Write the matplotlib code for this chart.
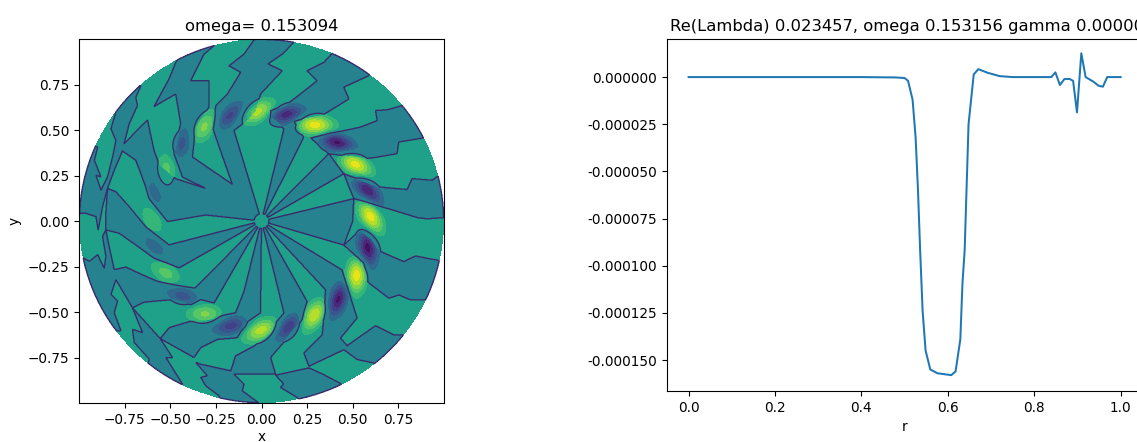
import numpy as np
import matplotlib
matplotlib.use('Agg')
import matplotlib.pyplot as plt
from matplotlib.path import Path
from matplotlib.ticker import FormatStrFormatter

# profile on the right
r_vals = [0.0, 0.1, 0.2, 0.3, 0.4, 0.48, 0.5, 0.508, 0.5185, 0.5255, 0.531, 0.536, 0.5417, 0.5486,
          0.5595, 0.576, 0.608, 0.618, 0.629, 0.634, 0.639, 0.648, 0.66, 0.6706, 0.692, 0.72, 0.75,
          0.8396, 0.849, 0.8595, 0.87, 0.882, 0.89, 0.899, 0.909, 0.919, 0.9375, 0.949, 0.959, 0.969, 1.0]
lam_vals = [0.0, 0.0, 0.0, 0.0, 0.0, -0.0000002, -0.0000005, -0.0000020, -0.000012, -0.000032, -0.000060,
            -0.000092, -0.000124, -0.000145, -0.000155, -0.000157, -0.000158, -0.000156, -0.000139,
            -0.000109, -0.000092, -0.000025, 0.0000014, 0.0000042, 0.0000023, 0.0000005, 0.0,
            0.0, 0.0000025, -0.0000042, -0.000001, -0.000001, -0.000002, -0.0000187, 0.0000126, 0.0,
            -0.0000025, -0.0000046, -0.0000051, 0.0, 0.0]

# blobs along the ring: x, y, height
pos_blobs = [(-0.60, 0.005, 0.30), (-0.525, 0.28, 0.38), (-0.31, 0.52, 0.54), (-0.02, 0.60, 0.72),
             (0.296, 0.525, 0.90), (0.515, 0.31, 0.90), (0.597, 0.03, 0.90), (0.52, -0.30, 0.90),
             (0.285, -0.52, 0.80), (0.0, -0.60, 0.72), (-0.31, -0.51, 0.52), (-0.525, -0.285, 0.38)]
neg_blobs = [(-0.58, 0.16, 0.28), (-0.43, 0.43, 0.40), (-0.17, 0.58, 0.58), (0.14, 0.585, 0.76),
             (0.415, 0.43, 0.90), (0.58, 0.165, 0.90), (0.58, -0.155, 0.90), (0.42, -0.43, 0.86),
             (0.15, -0.58, 0.70), (-0.17, -0.575, 0.58), (-0.43, -0.413, 0.42), (-0.585, -0.14, 0.28)]

# regions of the disk with the slightly negative background
teal_regions = [
    # wedges from the centre
    [(0.0, 0.0), (0.123, 0.507), (0.232, 0.461)],
    [(0.0, 0.0), (0.369, 0.37), (0.451, 0.26)],
    [(0.0, 0.0), (0.506, 0.123), (0.50, 0.0), (0.451, -0.132)],
    [(0.0, 0.0), (0.442, -0.269), (0.351, -0.378)],
    # right half, outer parts
    [(0.123, 0.507), (0.05, 0.571), (0.05, 0.607), (0.132, 0.634), (0.305, 0.771), (0.25, 0.826), (0.342, 0.872),
     (0.387, 0.921), (0.42, 1.0), (0.62, 0.9), (0.588, 0.799), (0.451, 0.735), (0.479, 0.671), (0.333, 0.58),
     (0.177, 0.549), (0.232, 0.461)],
    [(0.771, 0.634), (0.688, 0.611), (0.625, 0.607), (0.634, 0.552), (0.542, 0.516), (0.269, 0.457), (0.369, 0.37),
     (0.579, 0.342), (0.743, 0.37), (0.752, 0.434), (0.889, 0.457), (1.05, 0.5), (0.9, 0.7)],
    [(0.971, 0.251), (0.935, 0.224), (0.825, 0.233), (0.798, 0.173), (0.643, 0.187), (0.451, 0.26), (0.506, 0.123),
     (0.634, 0.087), (0.853, 0.019), (0.907, 0.012), (1.05, 0.023), (1.05, 0.25)],
    [(0.451, -0.132), (0.542, -0.05), (0.606, -0.104), (0.652, -0.168), (0.78, -0.223), (0.844, -0.192),
     (0.907, -0.205), (0.962, -0.214), (1.05, -0.25), (1.05, -0.45), (0.907, -0.433), (0.816, -0.433),
     (0.752, -0.406), (0.698, -0.424), (0.579, -0.333), (0.561, -0.232)],
    [(0.442, -0.269), (0.469, -0.36), (0.524, -0.533), (0.433, -0.643), (0.469, -0.685), (0.625, -0.575),
     (0.725, -0.625), (0.78, -0.625), (0.9, -0.7), (0.7, -0.9), (0.615, -0.78), (0.524, -0.761), (0.451, -0.707),
     (0.26, -0.798), (0.232, -0.725), (0.333, -0.625), (0.351, -0.378)],
    # bottom
    [(0.0, 0.0), (0.123, -0.506), (0.077, -0.559), (0.05, -0.614), (-0.042, -0.687), (-0.142, -0.741),
     (-0.169, -0.823), (-0.151, -0.841), (0.077, -0.841), (0.05, -0.75), (0.15, -0.632), (0.223, -0.542),
     (0.25, -0.442)],
    [(0.0, 0.0), (-0.005, -0.505), (-0.087, -0.559), (-0.133, -0.641), (-0.242, -0.65), (-0.333, -0.696),
     (-0.37, -0.75), (-0.555, -0.646), (-0.506, -0.586), (-0.388, -0.55), (-0.324, -0.55), (-0.242, -0.531),
     (-0.215, -0.519), (-0.142, -0.505), (-0.096, -0.386)],
    [(-0.361, -0.777), (-0.297, -0.85), (-0.333, -0.859), (-0.306, -0.905), (-0.233, -0.96), (-0.2, -1.05),
     (-0.014, -1.05), (-0.014, -1.0), (-0.105, -0.933), (-0.096, -0.896), (-0.151, -0.841), (-0.169, -0.823),
     (-0.333, -0.787)],
    [(0.077, -0.847), (0.122, -0.896), (0.104, -0.914), (0.195, -0.969), (0.25, -1.05), (0.5, -0.95), (0.433, -0.893),
     (0.333, -0.84), (0.26, -0.807)],
    # lower left
    [(-0.707, -0.477), (-0.652, -0.613), (-0.707, -0.595), (-0.697, -0.668), (-0.615, -0.759), (-0.625, -0.796),
     (-0.6, -0.85), (-0.40, -0.95), (-0.433, -0.896), (-0.524, -0.75), (-0.488, -0.75), (-0.555, -0.646)],
    [(0.0, 0.0), (-0.364, -0.369), (-0.434, -0.359), (-0.57, -0.331), (-0.634, -0.304), (-0.743, -0.253),
     (-0.807, -0.267), (-0.798, -0.322), (-0.707, -0.477), (-0.643, -0.446), (-0.488, -0.431), (-0.388, -0.459),
     (-0.333, -0.431), (-0.26, -0.451)],
    [(-0.98, -0.2), (-0.944, -0.222), (-0.898, -0.185), (-0.862, -0.258), (-0.853, -0.195), (-0.871, -0.085),
     (-0.853, -0.049), (-0.835, -0.14), (-0.807, -0.267), (-0.798, -0.322), (-0.825, -0.404), (-0.789, -0.44),
     (-0.807, -0.504), (-0.77, -0.604), (-0.85, -0.6), (-1.0, -0.3)],
    [(0.0, 0.0), (-0.507, -0.131), (-0.634, -0.031), (-0.725, 0.079), (-0.798, 0.161), (-0.844, 0.179),
     (-0.853, 0.042), (-0.853, -0.049), (-0.78, -0.067), (-0.689, -0.131), (-0.589, -0.204), (-0.452, -0.258)],
    # upper left
    [(0.0, 0.0), (-0.306, 0.179), (-0.47, 0.233), (-0.561, 0.315), (-0.589, 0.388), (-0.625, 0.556), (-0.753, 0.425),
     (-0.725, 0.534), (-0.68, 0.634), (-0.689, 0.68), (-0.661, 0.743), (-0.8, 0.75), (-0.798, 0.598), (-0.825, 0.507),
     (-0.798, 0.443), (-0.816, 0.352), (-0.844, 0.242), (-0.853, 0.224), (-0.88, 0.17), (-0.907, 0.252),
     (-0.88, 0.242), (-0.916, 0.334), (-0.898, 0.406), (-1.0, 0.45), (-1.05, 0.04), (-0.962, 0.042), (-0.907, 0.024),
     (-0.895, -0.049), (-0.871, 0.079), (-0.844, 0.179), (-0.807, 0.279), (-0.762, 0.385), (-0.689, 0.334),
     (-0.634, 0.188), (-0.616, 0.124), (-0.516, -0.003), (-0.306, 0.033)],
    [(0.0, 0.0), (-0.306, 0.179), (-0.434, 0.242), (-0.479, 0.37), (-0.443, 0.534), (-0.47, 0.698), (-0.589, 0.629),
     (-0.552, 0.698), (-0.507, 0.78), (-0.47, 0.871), (-0.4, 1.0), (-0.26, 0.963), (-0.315, 0.917), (-0.388, 0.771),
     (-0.288, 0.771), (-0.288, 0.625), (-0.36, 0.515), (-0.379, 0.352), (-0.16, 0.202)],
    # top
    [(-0.045, 0.99), (-0.096, 0.917), (-0.178, 0.853), (-0.114, 0.817), (-0.187, 0.698), (-0.251, 0.634),
     (-0.27, 0.516), (-0.16, 0.202), (0.0, 0.0), (-0.151, 0.498), (-0.08, 0.55), (-0.03, 0.6), (-0.005, 0.698),
     (0.114, 0.826), (0.035, 0.863), (0.114, 0.917), (0.177, 0.981), (0.1, 1.05), (-0.045, 1.05)],
]

ticks_left = [-0.75, -0.50, -0.25, 0.0, 0.25, 0.50, 0.75]

plt.rcParams['font.size'] = 9.85
plt.rcParams['lines.linewidth'] = 1.45

x = np.linspace(-1, 1, 800)
X, Y = np.meshgrid(x, x)
R = np.sqrt(X ** 2 + Y ** 2)
pts = np.column_stack([X.ravel(), Y.ravel()])

teal = np.zeros(X.shape, dtype=bool)
for reg in teal_regions:
    teal |= Path(reg).contains_points(pts).reshape(X.shape)
teal[R < 0.04] = False
Z = np.where(teal, -0.12, 0.12)


def add_blobs(Z, blobs, sign):
    for bx, by, h in blobs:
        ang = np.arctan2(by, bx) - np.radians(73)
        u = (X - bx) * np.cos(ang) + (Y - by) * np.sin(ang)
        v = -(X - bx) * np.sin(ang) + (Y - by) * np.cos(ang)
        Z = Z + sign * h * np.exp(-(u / 0.075) ** 2 / 2 - (v / 0.038) ** 2 / 2)
    return Z


Z = add_blobs(Z, pos_blobs, 1)
Z = add_blobs(Z, neg_blobs, -1)
Z = np.clip(Z, -0.999, 0.999)

fig = plt.figure(figsize=(11.37, 4.42), dpi=100)
ax1 = fig.add_axes([0.0695, 0.0882, 0.321, 0.8235])
levels = [-1.0, -0.85, -0.7, -0.55, -0.4, -0.25, 0.0, 0.25, 0.4, 0.55, 0.7, 0.85, 1.0]
ax1.contourf(X, Y, np.ma.masked_where(R > 0.998, Z), levels=levels, cmap='viridis', vmin=-1, vmax=1)
# everything outside the disk counts as positive so the teal edge gets its line too
ax1.contour(X, Y, np.where(R > 0.998, 0.12, Z), levels=[0.0], colors='#3b2a6e', linewidths=0.95)
ax1.set_xlim(-1, 1)
ax1.set_ylim(-1, 1)
ax1.set_xticks(ticks_left)
ax1.set_yticks(ticks_left)
ax1.set_xlabel('x', labelpad=2)
ax1.set_ylabel('y')
ax1.set_title('omega= 0.153094', fontsize=11.8)

ax2 = fig.add_axes([0.5866, 0.1154, 0.418, 0.796])
ax2.plot(r_vals, lam_vals)
ax2.set_xlim(-0.05, 1.05)
ax2.set_ylim(-0.0001664, 0.0000201)
ax2.yaxis.set_major_formatter(FormatStrFormatter('%.6f'))
ax2.set_xlabel('r')
ax2.set_title('Re(Lambda) 0.023457, omega 0.153156 gamma 0.000000', fontsize=11.8, x=0.517)

fig.savefig('out.png', dpi=100)
